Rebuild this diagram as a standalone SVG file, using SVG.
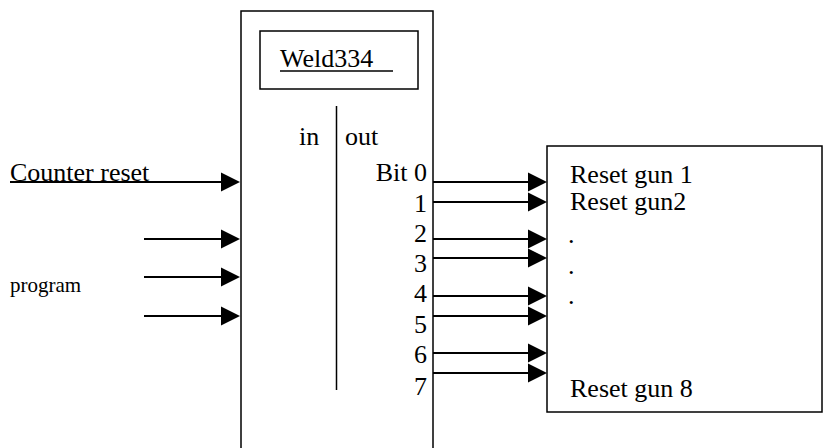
<svg xmlns="http://www.w3.org/2000/svg" width="823" height="448" viewBox="0 0 823 448">
<style>
.t{font-family:"Liberation Serif","Times New Roman",serif;font-size:26px;fill:#000}
.s{font-family:"Liberation Serif","Times New Roman",serif;font-size:21px;fill:#000}
.box{fill:none;stroke:#000;stroke-width:1.5}
.ln{stroke:#000;stroke-width:2;fill:none}
.ah{fill:#000}
</style>
<rect width="823" height="448" fill="#fff"/>
<g id="weld334">
<rect class="box" x="241" y="11" width="192" height="445"/>
<rect class="box" x="260" y="31" width="158" height="58"/>
<text class="t" x="280" y="67">Weld334</text>
<line x1="280" y1="71" x2="393" y2="71" stroke="#000" stroke-width="1.5"/>
<line x1="336.5" y1="106" x2="336.5" y2="390" stroke="#000" stroke-width="1.5"/>
<text class="t" x="299" y="145">in</text>
<text class="t" x="345" y="145">out</text>
<g text-anchor="end">
<text class="t" x="427" y="181">Bit 0</text>
<text class="t" x="427" y="212">1</text>
<text class="t" x="427" y="242">2</text>
<text class="t" x="427" y="272">3</text>
<text class="t" x="427" y="302">4</text>
<text class="t" x="427" y="333">5</text>
<text class="t" x="427" y="363">6</text>
<text class="t" x="427" y="395">7</text>
</g>
</g>
<g id="guns">
<rect class="box" x="547" y="146" width="275" height="266"/>
<text class="t" x="570" y="183">Reset gun 1</text>
<text class="t" x="570" y="210">Reset gun2</text>
<text class="t" x="568" y="243">.</text>
<text class="t" x="568" y="274">.</text>
<text class="t" x="568" y="304">.</text>
<text class="t" x="570" y="397">Reset gun 8</text>
</g>
<g id="inputs">
<text class="t" x="10" y="181">Counter reset</text>
<text class="s" x="10" y="292">program</text>
</g>
<g id="connectors">
<line class="ln" x1="10" y1="182" x2="222" y2="182"/>
<polygon class="ah" points="221,172.5 240,182 221,191.5"/>
<line class="ln" x1="144" y1="239" x2="222" y2="239"/>
<polygon class="ah" points="221,229.5 240,239 221,248.5"/>
<line class="ln" x1="144" y1="277" x2="222" y2="277"/>
<polygon class="ah" points="221,267.5 240,277 221,286.5"/>
<line class="ln" x1="144" y1="316" x2="222" y2="316"/>
<polygon class="ah" points="221,306.5 240,316 221,325.5"/>

<line class="ln" x1="433" y1="182" x2="530" y2="182"/>
<polygon class="ah" points="528,172.5 547,182 528,191.5"/>
<line class="ln" x1="433" y1="202" x2="530" y2="202"/>
<polygon class="ah" points="528,192.5 547,202 528,211.5"/>
<line class="ln" x1="433" y1="239" x2="530" y2="239"/>
<polygon class="ah" points="528,229.5 547,239 528,248.5"/>
<line class="ln" x1="433" y1="258" x2="530" y2="258"/>
<polygon class="ah" points="528,248.5 547,258 528,267.5"/>
<line class="ln" x1="433" y1="296" x2="530" y2="296"/>
<polygon class="ah" points="528,286.5 547,296 528,305.5"/>
<line class="ln" x1="433" y1="316" x2="530" y2="316"/>
<polygon class="ah" points="528,306.5 547,316 528,325.5"/>
<line class="ln" x1="433" y1="353" x2="530" y2="353"/>
<polygon class="ah" points="528,343.5 547,353 528,362.5"/>
<line class="ln" x1="433" y1="373" x2="530" y2="373"/>
<polygon class="ah" points="528,363.5 547,373 528,382.5"/>
</g>
</svg>
